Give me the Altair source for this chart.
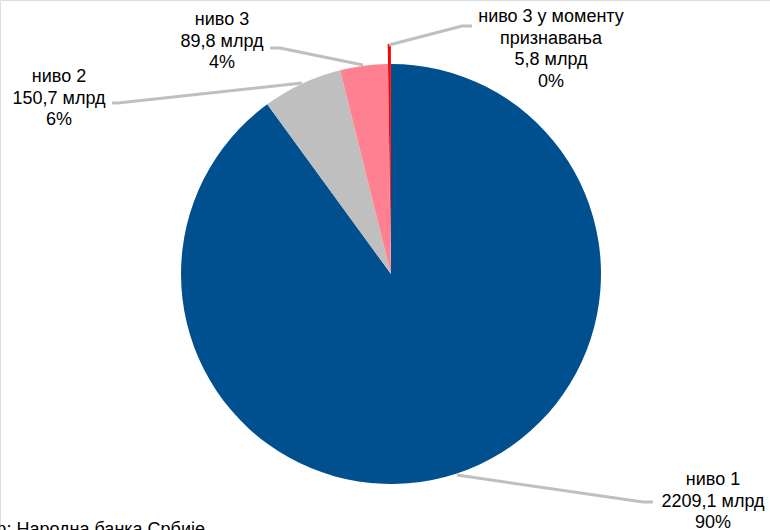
import math
import altair as alt
import pandas as pd

# ---- data ----
categories = ["ниво 1", "ниво 2", "ниво 3", "ниво 3 у моменту признавања"]
values = [2209.1, 150.7, 89.8, 5.8]
value_labels = ["2209,1 млрд", "150,7 млрд", "89,8 млрд", "5,8 млрд"]
percent_labels = ["90%", "6%", "4%", "0%"]
name_lines = ["ниво 1", "ниво 2", "ниво 3", "ниво 3 у моменту\nпризнавања"]
source_text = "Извор: Народна банка Србије"

# ---- styles / layout ----
colors = ["#00508F", "#BFBFBF", "#FF8091", "#FF0000"]
CX, CY, R = 391, 274, 210
EXPLODE = 20
FONT = "Liberation Sans"

# label anchor (center x, first-line baseline y)
label_pos = {
    "ниво 1": (713, 485),
    "ниво 2": (59, 82),
    "ниво 3": (222, 25),
    "ниво 3 у моменту признавања": (551, 22),
}
# leader line polylines
leader_pts = {
    "ниво 1": [(457, 475), (643, 502), (653, 502)],
    "ниво 2": [(112, 103), (118, 103), (302, 83)],
    "ниво 3": [(270, 48), (280, 48), (363, 65)],
    "ниво 3 у моменту признавања": [(389, 45), (462, 26), (472, 26)],
}

total = sum(values)
rows = []
acc = 0.0
for c, v in zip(categories, values):
    t0 = acc / total * 2 * math.pi
    acc += v
    t1 = acc / total * 2 * math.pi
    rows.append({"cat": c, "value": v, "t0": t0, "t1": t1})
pie_df = pd.DataFrame(rows)

# exploded slice centre (last category)
mid = (rows[-1]["t0"] + rows[-1]["t1"]) / 2
ex_x = CX + EXPLODE * math.sin(mid)
ex_y = CY - EXPLODE * math.cos(mid)

color_scale = alt.Scale(domain=categories, range=colors)

arcs = alt.Chart(pie_df).transform_filter(
    alt.datum.cat != categories[-1]
).mark_arc(outerRadius=R, innerRadius=0).encode(
    theta=alt.Theta("t0:Q", scale=None),
    theta2="t1:Q",
    color=alt.Color("cat:N", scale=color_scale, legend=None),
    x=alt.value(CX),
    y=alt.value(CY),
)

exploded = alt.Chart(pie_df).transform_filter(
    alt.datum.cat == categories[-1]
).mark_arc(outerRadius=R, innerRadius=0).encode(
    theta=alt.Theta("t0:Q", scale=None),
    theta2="t1:Q",
    color=alt.Color("cat:N", scale=color_scale, legend=None),
    x=alt.value(ex_x),
    y=alt.value(ex_y),
)

line_rows = []
for c in categories:
    for i, (px, py) in enumerate(leader_pts[c]):
        line_rows.append({"cat": c, "pt": i, "x": px, "y": py})
lines_df = pd.DataFrame(line_rows)

leaders = alt.Chart(lines_df).mark_line(color="#BFBFBF", strokeWidth=3).encode(
    x=alt.X("x:Q", scale=None, axis=None),
    y=alt.Y("y:Q", scale=None, axis=None),
    detail="cat:N",
    order="pt:Q",
)

label_rows = []
for c, n, vl, pl in zip(categories, name_lines, value_labels, percent_labels):
    tx, ty = label_pos[c]
    label_rows.append({"cat": c, "label": f"{n}\n{vl}\n{pl}", "tx": tx, "ty": ty})
labels_df = pd.DataFrame(label_rows)

labels = alt.Chart(labels_df).mark_text(
    align="center", baseline="alphabetic", lineBreak="\n",
    fontSize=18, lineHeight=21.5, font=FONT, color="#000000",
).encode(
    x=alt.X("tx:Q", scale=None, axis=None),
    y=alt.Y("ty:Q", scale=None, axis=None),
    text="label:N",
)

source = alt.Chart(pd.DataFrame({"t": [source_text]})).mark_text(
    align="right", baseline="alphabetic", fontSize=18, font=FONT, color="#000000",
).encode(
    x=alt.value(205),
    y=alt.value(535),
    text="t:N",
)

chart = alt.layer(arcs, exploded, leaders, labels, source).properties(
    width=770, height=530, padding=0,
    autosize=alt.AutoSizeParams(type="none"),
).configure_view(strokeWidth=0).configure(background="white")

chart.save("out.html", embed_options={"renderer": "svg", "actions": False})
